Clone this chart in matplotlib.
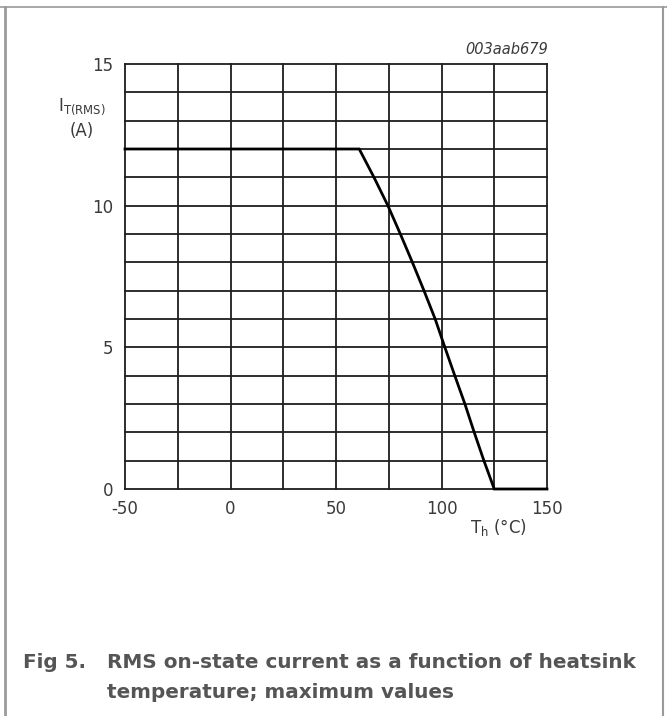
import matplotlib
matplotlib.use("Agg")
import matplotlib.pyplot as plt
from matplotlib.lines import Line2D

plt.rcParams['font.family'] = ['DejaVu Sans']
plt.rcParams['mathtext.default'] = 'regular'
plt.rcParams['axes.unicode_minus'] = False

# Data (heatsink temperature °C, RMS current A)
temp_c = [-50, 61, 68.0, 74.6, 80.5, 86.2, 91.7, 97.0, 101.6, 106.3, 111.1, 115.5, 120.1, 125, 150]
current_a = [12, 12, 11, 10, 9, 8, 7, 6, 5, 4, 3, 2, 1, 0, 0]

x_ticks = [-50, 0, 50, 100, 150]
y_ticks = [0, 5, 10, 15]
x_grid = [-50, -25, 0, 25, 50, 75, 100, 125, 150]
y_grid = list(range(0, 16))

W, H = 667, 716
fig = plt.figure(figsize=(W / 100, H / 100), dpi=100)

def fx(px):
    return px / W

def fy(py):
    return 1 - py / H

ax = fig.add_axes([fx(125), fy(489), fx(547) - fx(125), fy(64) - fy(489)])
ax.set_xlim(-50, 150)
ax.set_ylim(0, 15)

grid_color = '#1e1e1e'
for gx in x_grid:
    ax.axvline(gx, color=grid_color, lw=1.3, zorder=1, clip_on=False)
for gy in y_grid:
    ax.axhline(gy, color=grid_color, lw=1.3, zorder=1, clip_on=False)

ax.plot(temp_c, current_a, color='black', lw=2.0, zorder=3, solid_joinstyle='miter',
        clip_on=False)

for s in ax.spines.values():
    s.set_visible(False)
ax.set_xticks(x_ticks)
ax.set_yticks(y_ticks)
tc = '#3a3a3a'
ax.tick_params(length=0, labelsize=12, colors=tc)
ax.tick_params(axis='y', pad=8.5)
ax.tick_params(axis='x', pad=8)

fig.text(fx(82), fy(107), r'$I_{T(RMS)}$', ha='center', va='center', fontsize=12, color=tc)
fig.text(fx(82), fy(131), '(A)', ha='center', va='center', fontsize=12, color=tc)
fig.text(fx(498), fy(527), r'$T_h$ (°C)', ha='center', va='center', fontsize=12, color=tc)
fig.text(fx(548), fy(50), '003aab679', ha='right', va='center', fontsize=10.5,
         style='italic', color=tc)

cap_color = '#555555'
fig.text(fx(23), fy(662), 'Fig 5.', ha='left', va='center', fontsize=14.4,
         fontweight='bold', color=cap_color)
fig.text(fx(107), fy(662), 'RMS on-state current as a function of heatsink', ha='left',
         va='center', fontsize=14.4, fontweight='bold', color=cap_color)
fig.text(fx(107), fy(692), 'temperature; maximum values', ha='left', va='center',
         fontsize=14.4, fontweight='bold', color=cap_color)

# frame lines
fig.add_artist(Line2D([0, 1], [fy(7), fy(7)], transform=fig.transFigure, color='#9a9a9a', lw=1.2))
fig.add_artist(Line2D([fx(5), fx(5)], [fy(7), 0], transform=fig.transFigure, color='#9a9a9a', lw=2))
fig.add_artist(Line2D([fx(663), fx(663)], [fy(7), 0], transform=fig.transFigure, color='#9a9a9a', lw=1.5))

fig.savefig('out.png', dpi=100, facecolor='white')
